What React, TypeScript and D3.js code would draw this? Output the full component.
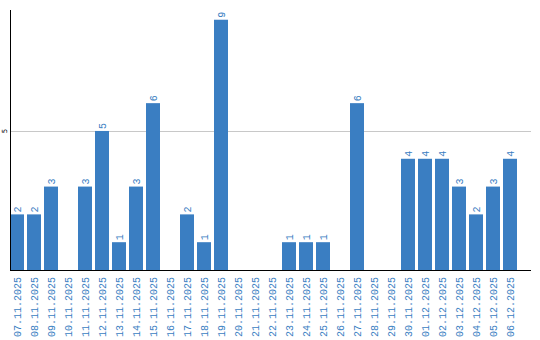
import React from "react";
import * as d3 from "d3";

const categories = ["07.11.2025","08.11.2025","09.11.2025","10.11.2025","11.11.2025","12.11.2025","13.11.2025","14.11.2025","15.11.2025","16.11.2025","17.11.2025","18.11.2025","19.11.2025","20.11.2025","21.11.2025","22.11.2025","23.11.2025","24.11.2025","25.11.2025","26.11.2025","27.11.2025","28.11.2025","29.11.2025","30.11.2025","01.12.2025","02.12.2025","03.12.2025","04.12.2025","05.12.2025","06.12.2025"];
const values = [2,2,3,0,3,5,1,3,6,0,2,1,9,0,0,0,1,1,1,0,6,0,0,4,4,4,3,2,3,4];
const yTicks = [5];

const BLUE = "#3a7ec2";

export default function App() {
  const left = 10, right = 531, top = 10, bottom = 270;
  const p = 3 / 17;
  const x = d3.scaleBand<string>().domain(categories).range([left, 517]).paddingInner(p).paddingOuter(0);
  const y = d3.scaleLinear().domain([0, 9.35]).range([bottom, top]);
  const font = "Liberation Mono, monospace";
  return (
    <svg width={540} height={340} style={{ position: "absolute", left: 0, top: 0 }}>
      {yTicks.map((t) => (
        <g key={t}>
          <line x1={left} x2={right} y1={Math.round(y(t)) + 0.5} y2={Math.round(y(t)) + 0.5} stroke="#c8c8c8" strokeWidth={1} />
          <text transform={`translate(7,${y(t)}) rotate(-90)`} textAnchor="middle" fontFamily="DejaVu Sans, sans-serif" fontSize={7} fill="#000">{t}</text>
        </g>
      ))}
      {categories.map((c, i) => {
        const v = values[i];
        const bx = x(c)!;
        const cx = bx + x.bandwidth() / 2;
        return (
          <g key={c}>
            {v > 0 && (
              <rect x={bx} y={y(v)} width={x.bandwidth()} height={bottom - y(v)} fill={BLUE} />
            )}
            {v > 0 && (
              <text transform={`translate(${cx + 3.5},${y(v) - 2}) rotate(-90)`} textAnchor="start" fontFamily={font} fontSize={10} fill={BLUE}>{v}</text>
            )}
            <text transform={`translate(${cx + 3.5},${bottom + 7}) rotate(-90)`} textAnchor="end" fontFamily={font} fontSize={10} fill={BLUE}>{c}</text>
          </g>
        );
      })}
      <line x1={left + 0.5} x2={left + 0.5} y1={top} y2={bottom} stroke="#000" strokeWidth={1} />
      <line x1={left} x2={right} y1={bottom + 0.5} y2={bottom + 0.5} stroke="#000" strokeWidth={1} />
    </svg>
  );
}
